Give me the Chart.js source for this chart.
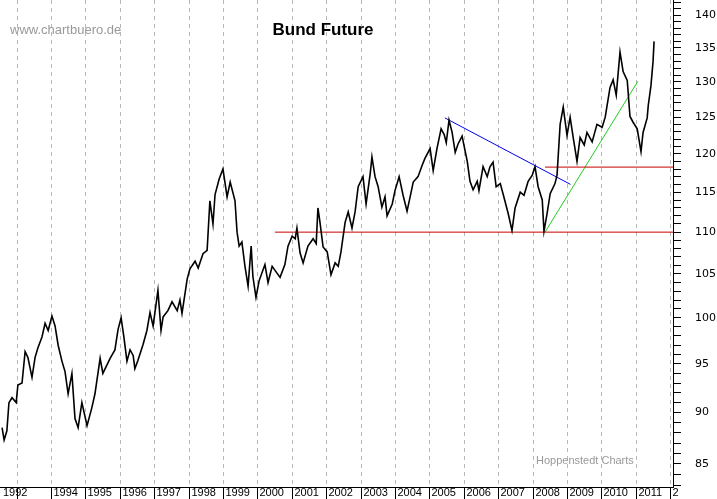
<!DOCTYPE html>
<html>
<head>
<meta charset="utf-8">
<script src="https://cdn.jsdelivr.net/npm/chart.js@4/dist/chart.umd.min.js"></script>
<style>
  html, body { margin: 0; padding: 0; background: #fff; }
  #wrap { width: 717px; height: 499px; position: relative; }
</style>
</head>
<body>
<div id="wrap"><canvas id="c"></canvas></div>
<script>
// Bund Future, Jahreswerte als Dezimaljahr
const jahre = [1992.58,1992.64,1992.72,1992.78,1992.87,1992.99,1993.04,1993.16,1993.25,1993.33,1993.45,1993.54,1993.62,1993.74,1993.83,1993.92,
  1994.03,1994.12,1994.21,1994.32,1994.41,1994.50,1994.61,1994.70,1994.79,1994.90,1995.05,1995.19,1995.28,1995.43,1995.51,1995.72,1995.86,1995.95,
  1996.04,1996.12,1996.21,1996.30,1996.39,1996.44,1996.53,1996.68,1996.79,1996.88,1996.97,1997.11,1997.20,1997.26,1997.40,1997.52,1997.67,1997.75,1997.81,1997.96,
  1998.04,1998.19,1998.28,1998.42,1998.54,1998.62,1998.71,1998.77,1998.89,1999.00,1999.12,1999.21,1999.35,1999.41,1999.47,1999.55,1999.64,1999.73,1999.82,1999.87,1999.96,
  2000.05,2000.22,2000.31,2000.43,2000.57,2000.66,2000.80,2000.89,2001.01,2001.10,2001.15,2001.24,2001.33,2001.47,2001.62,2001.71,2001.76,2001.82,2001.91,
  2002.03,2002.14,2002.26,2002.35,2002.43,2002.55,2002.64,2002.75,2002.84,2002.93,2003.07,2003.16,2003.28,2003.33,2003.42,2003.51,2003.62,2003.71,2003.77,2003.92,
  2004.00,2004.12,2004.23,2004.35,2004.44,2004.53,2004.67,2004.79,2004.87,2005.02,2005.11,2005.22,2005.34,2005.43,2005.49,2005.57,2005.66,2005.75,2005.83,2005.95,
  2006.10,2006.18,2006.27,2006.39,2006.44,2006.56,2006.68,2006.76,2006.85,2006.94,2007.06,2007.14,2007.29,2007.40,2007.49,2007.64,2007.75,2007.87,2007.99,
  2008.07,2008.16,2008.28,2008.33,2008.42,2008.51,2008.65,2008.71,2008.80,2008.89,2009.00,2009.09,2009.18,2009.29,2009.38,2009.50,2009.58,2009.73,2009.87,
  2010.02,2010.11,2010.25,2010.34,2010.43,2010.54,2010.63,2010.75,2010.83,2010.92,2011.04,2011.15,2011.21,2011.33,2011.36,2011.44,2011.50,2011.53];
const kurse = [88.5,87.3,88.2,91,91.5,91,92.8,93,96.3,95.7,93.6,95.7,96.7,97.9,99.4,98.6,
  100.2,99.1,97,95.3,94.2,91.9,94,89.4,88.5,91,88.7,90.5,91.9,95.6,94,95.6,96.5,98.7,
  100,97.9,95.3,96.5,95.9,94.5,95.4,97.1,98.6,100.6,99.1,103.1,98.6,100.1,100.8,101.8,100.8,102,100.5,104.4,
  105.6,106.5,105.7,107.4,107.8,113.9,111,114.7,116.7,118,114.4,116.3,113.9,110,108.3,108.8,105.9,103.6,108.3,104.7,102.3,
  104.2,106.1,104,105.9,105.1,104.6,106.1,108.3,109.5,109.2,110.5,107.5,106.3,108.3,109.2,108.6,113,111.2,108.2,
  107.6,104.9,106.3,105.9,107.6,111.2,112.5,110.5,112.5,115.7,117,113.5,117.4,119.6,117,115.7,113.1,114.4,112,113.5,
  115.2,117,114.7,112.6,114.4,116.3,117,118.5,119.4,120.7,117.8,120.7,123.4,122.6,121.5,124.6,122.9,120.2,121.3,122.4,
  119,116.4,115.3,116.4,115.2,118.3,117,118.3,118.9,115.7,116.1,114.8,112.3,110.2,113,115,114.6,116.4,117.2,
  118.3,115.7,114,110.1,112.3,114.8,116.1,117.2,124,126.4,122.5,125,122.2,119,122.2,121.2,122.9,121.6,124,
  123.6,125,129.2,130.3,128.1,134.4,131.5,130.2,125.1,124.3,123.4,120.3,122.9,124.9,126.6,129.5,133,136];

// Trendlinien [jahr, kurs]
const blauLinie = [[2005.45, 124.9], [2009.1, 116.0]];
const gruenLinie = [[2008.36, 110.0], [2011.06, 130.1]];
const linie110 = [[2000.51, 110.0], [2012.08, 110.0]];
const linie118 = [[2008.36, 118.25], [2012.08, 118.25]];

const jahrTicks = [1993,1994,1995,1996,1997,1998,1999,2000,2001,2002,2003,2004,2005,2006,2007,2008,2009,2010,2011,2012];
const jahrLabels = ['','1994','1995','1996','1997','1998','1999','2000','2001','2002','2003','2004','2005','2006','2007','2008','2009','2010','2011','2'];
const kursTicks = [];
for (let v = 83; v <= 142; v++) kursTicks.push(v);

const xy = arr => arr.map(p => ({ x: p[0], y: p[1] }));

const extras = {
  id: 'extras',
  beforeDatasetsDraw(chart) {
    const { ctx, chartArea: a, scales: { x } } = chart;
    ctx.save();
    ctx.strokeStyle = '#b8b8b8';
    ctx.lineWidth = 1;
    ctx.setLineDash([4, 4]);
    jahrTicks.forEach(j => {
      const px = Math.round(x.getPixelForValue(j)) + 0.5;
      ctx.beginPath(); ctx.moveTo(px, a.top); ctx.lineTo(px, a.bottom); ctx.stroke();
    });
    ctx.restore();
  },
  afterDraw(chart) {
    const { ctx, chartArea: a, scales: { x } } = chart;
    ctx.save();
    ctx.strokeStyle = '#000';
    ctx.fillStyle = '#000';
    ctx.lineWidth = 1;
    ctx.font = '11px "Liberation Sans", Arial';
    ctx.textBaseline = 'middle';
    ctx.fillText('1992', 3, a.bottom + 6);
    jahrTicks.forEach((j, i) => {
      const px = Math.round(x.getPixelForValue(j)) + 0.5;
      ctx.beginPath(); ctx.moveTo(px, a.bottom); ctx.lineTo(px, a.bottom + 12); ctx.stroke();
      ctx.fillText(jahrLabels[i], px + 2, a.bottom + 6);
    });
    ctx.font = 'bold 17px "Liberation Sans", Arial';
    ctx.textAlign = 'center';
    ctx.fillText('Bund Future', 323, 30);
    ctx.fillStyle = '#999';
    ctx.font = '13px "Liberation Sans", Arial';
    ctx.textAlign = 'left';
    ctx.fillText('www.chartbuero.de', 10, 30);
    ctx.font = '11px "Liberation Sans", Arial';
    ctx.fillText('Hoppenstedt Charts', 536, 461);
    ctx.restore();
  }
};

new Chart(document.getElementById('c'), {
  type: 'line',
  data: {
    datasets: [
      { data: jahre.map((j, i) => ({ x: j, y: kurse[i] })), borderColor: '#000', borderWidth: 1.6 },
      { data: xy(linie110), borderColor: '#cc0000', borderWidth: 1 },
      { data: xy(linie118), borderColor: '#cc0000', borderWidth: 1 },
      { data: xy(blauLinie), borderColor: '#0000ee', borderWidth: 1 },
      { data: xy(gruenLinie), borderColor: '#22cc22', borderWidth: 1 }
    ]
  },
  options: {
    responsive: true,
    maintainAspectRatio: false,
    animation: false,
    layout: { padding: 0 },
    elements: { point: { radius: 0 }, line: { tension: 0 } },
    plugins: { legend: { display: false }, tooltip: { enabled: false } },
    scales: {
      x: {
        type: 'linear', min: 1992.52, max: 2012.08,
        afterBuildTicks: s => { s.ticks = jahrTicks.map(v => ({ value: v })); },
        afterFit: s => { s.height = 12; s.paddingLeft = 0; s.paddingRight = 0; },
        grid: { display: false },
        border: { display: true, color: '#000', width: 1 },
        ticks: { display: false }
      },
      y: {
        type: 'logarithmic', position: 'right', min: 82.85, max: 142.4,
        afterBuildTicks: s => { s.ticks = kursTicks.map(v => ({ value: v })); },
        afterFit: s => { s.width = 44; s.paddingTop = 0; s.paddingBottom = 0; },
        grid: { drawOnChartArea: false, drawTicks: true, tickLength: 8, color: '#000' },
        border: { display: true, color: '#000', width: 1 },
        ticks: {
          autoSkip: false, padding: 14, color: '#000',
          font: { family: 'DejaVu Sans', size: 11 },
          callback: v => v % 5 === 0 ? String(v) : ''
        }
      }
    }
  },
  plugins: [extras]
});
</script>
</body>
</html>
